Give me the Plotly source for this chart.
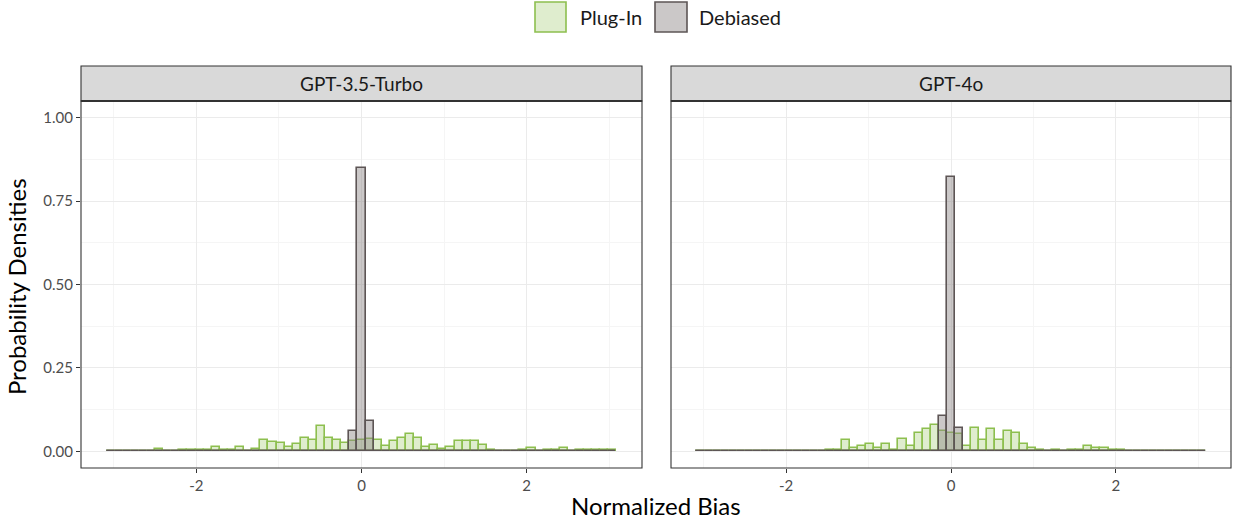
import plotly.graph_objects as go

W, H = 1233, 521

# ---- data -----------------------------------------------------------------
bin_centers = [-3.038, -2.940, -2.842, -2.744, -2.646, -2.548, -2.450, -2.352,
               -2.254, -2.156, -2.058, -1.960, -1.862, -1.764, -1.666, -1.568,
               -1.470, -1.372, -1.274, -1.176, -1.078, -0.980, -0.882, -0.784,
               -0.686, -0.588, -0.490, -0.392, -0.294, -0.196, -0.098, 0.0,
               0.098, 0.196, 0.294, 0.392, 0.490, 0.588, 0.686, 0.784, 0.882,
               0.980, 1.078, 1.176, 1.274, 1.372, 1.470, 1.568, 1.666, 1.764,
               1.862, 1.960, 2.058, 2.156, 2.254, 2.352, 2.450, 2.548, 2.646,
               2.744, 2.842, 2.940, 3.038]
bin_width = 0.098

panels = ["GPT-3.5-Turbo", "GPT-4o"]
series_names = ["Plug-In", "Debiased"]

gpt35_plugin = [0, 0, 0, 0, 0, 0, 0.006, 0, 0, 0.004, 0.004, 0.004, 0.004, 0.012,
                0.004, 0.004, 0.012, 0, 0.006,
                0.035, 0.029, 0.024, 0.013, 0.023, 0.040, 0.034, 0.075, 0.040,
                0.034, 0.024, 0.030, 0.035, 0.037, 0.035, 0.017, 0.030, 0.040,
                0.052, 0.040, 0.013, 0.020, 0.008, 0.013, 0.030, 0.030, 0.030,
                0.019, 0.005,
                0, 0, 0, 0.004, 0.009, 0, 0.004, 0.004, 0.009, 0, 0.004, 0.004,
                0.004, 0.004, 0.004]
gpt35_debiased = [0] * 30 + [0.06, 0.85, 0.09] + [0] * 30

gpt4o_plugin = [0] * 16 + [0.005, 0.005, 0.033, 0.010, 0.015, 0.022, 0.010, 0.022,
                           0.005, 0.038, 0.015, 0.055, 0.066, 0.078, 0.061, 0.056,
                           0.051, 0.016, 0.071, 0.033, 0.066, 0.033, 0.061, 0.055,
                           0.023, 0.010, 0.005, 0, 0.005, 0, 0.005, 0.005, 0.016,
                           0.010, 0.010, 0.005, 0.005] + [0] * 10
gpt4o_debiased = [0] * 30 + [0.105, 0.823, 0.071] + [0] * 30

x_tickvals = [-2, 0, 2]
x_ticktext = ["-2", "0", "2"]
y_tickvals = [0, 0.25, 0.5, 0.75, 1.0]
y_ticktext = ["0.00", "0.25", "0.50", "0.75", "1.00"]

# ---- styles ---------------------------------------------------------------
FONT = "Lato"
green_line = "#8dbf4f"
green_fill = "rgba(141,191,79,0.28)"
grey_line = "#5d5555"
grey_fill = "rgba(140,134,134,0.45)"

fig = go.Figure()

data = [(gpt35_plugin, gpt35_debiased), (gpt4o_plugin, gpt4o_debiased)]
for i, (plug, deb) in enumerate(data):
    xa = "x" if i == 0 else "x2"
    ya = "y" if i == 0 else "y2"
    fig.add_trace(go.Bar(x=bin_centers, y=plug, width=bin_width, name=series_names[0],
                         marker=dict(color=green_fill, line=dict(color=green_line, width=1.6)),
                         xaxis=xa, yaxis=ya, showlegend=False))
    fig.add_trace(go.Bar(x=bin_centers, y=deb, width=bin_width, name=series_names[1],
                         marker=dict(color=grey_fill, line=dict(color=grey_line, width=1.6)),
                         xaxis=xa, yaxis=ya, showlegend=False))

def px_x(p):
    return p / W

def px_y(p):
    return 1 - p / H

left_dom = [px_x(81), px_x(642)]
right_dom = [px_x(671), px_x(1231)]
y_dom = [px_y(468), px_y(101)]

grid_major = "#ebebeb"
grid_minor = "#f5f5f5"
tickfont = dict(family=FONT, size=15, color="#4d4d4d")

xcommon = dict(range=[-3.396, 3.396], tickvals=x_tickvals, ticktext=x_ticktext,
               showgrid=True, gridcolor=grid_major, gridwidth=1.1,
               minor=dict(dtick=1, tick0=1, showgrid=True, gridcolor=grid_minor, gridwidth=0.6),
               ticks="outside", ticklen=4, tickcolor="#333333", tickwidth=1,
               tickfont=tickfont, zeroline=False, showline=False, automargin=False,
               fixedrange=True)
ycommon = dict(range=[-0.05, 1.05], domain=y_dom, tickvals=y_tickvals,
               showgrid=True, gridcolor=grid_major, gridwidth=1.1,
               minor=dict(dtick=0.125, tick0=0.125, showgrid=True, gridcolor=grid_minor, gridwidth=0.6),
               tickcolor="#333333", tickwidth=1, ticklen=4,
               tickfont=tickfont, zeroline=False, showline=False, automargin=False,
               fixedrange=True)

fig.update_layout(
    width=W, height=H,
    margin=dict(l=0, r=0, t=0, b=0),
    paper_bgcolor="white", plot_bgcolor="white",
    barmode="overlay", bargap=0,
    font=dict(family=FONT, color="#1a1a1a"),
    xaxis=dict(domain=left_dom, anchor="y", **xcommon),
    xaxis2=dict(domain=right_dom, anchor="y2", **xcommon),
    yaxis=dict(anchor="x", ticktext=y_ticktext, showticklabels=True, ticks="outside", **ycommon),
    yaxis2=dict(anchor="x2", showticklabels=False, ticks="", **ycommon),
)

shapes = []
annotations = []
for dom, title in zip([left_dom, right_dom], panels):
    # strip
    shapes.append(dict(type="rect", xref="paper", yref="paper",
                       x0=dom[0], x1=dom[1], y0=px_y(101), y1=px_y(66),
                       fillcolor="#d9d9d9", line=dict(color="#333333", width=1.1), layer="below"))
    shapes.append(dict(type="line", xref="paper", yref="paper",
                       x0=dom[0], x1=dom[1], y0=px_y(101), y1=px_y(101),
                       line=dict(color="#333333", width=2)))
    # panel border
    shapes.append(dict(type="rect", xref="paper", yref="paper",
                       x0=dom[0], x1=dom[1], y0=y_dom[0], y1=y_dom[1],
                       line=dict(color="#333333", width=1.1), layer="above"))
    annotations.append(dict(text=title, xref="paper", yref="paper",
                            x=(dom[0] + dom[1]) / 2, y=px_y(83.5),
                            showarrow=False, xanchor="center", yanchor="middle",
                            font=dict(family=FONT, size=19, color="#1a1a1a")))

# axis titles
annotations.append(dict(text="Normalized Bias", xref="paper", yref="paper",
                        x=(left_dom[0] + right_dom[1]) / 2, y=px_y(505),
                        showarrow=False, xanchor="center", yanchor="middle",
                        font=dict(family=FONT, size=24, color="#000000")))
annotations.append(dict(text="Probability Densities", xref="paper", yref="paper",
                        x=px_x(16), y=(y_dom[0] + y_dom[1]) / 2 - 0.005, textangle=-90,
                        showarrow=False, xanchor="center", yanchor="middle",
                        font=dict(family=FONT, size=24, color="#000000")))

# legend (keys + labels)
legend_items = [(535, 566, 578, green_fill, green_line, series_names[0]),
                (655, 687, 697, grey_fill, grey_line, series_names[1])]
for x0, x1, tx, fc, lc, label in legend_items:
    shapes.append(dict(type="rect", xref="paper", yref="paper",
                       x0=px_x(x0), x1=px_x(x1), y0=px_y(32), y1=px_y(2),
                       fillcolor=fc, line=dict(color=lc, width=1.6)))
    annotations.append(dict(text=label, xref="paper", yref="paper",
                            x=px_x(tx), y=px_y(17), showarrow=False,
                            xanchor="left", yanchor="middle",
                            font=dict(family=FONT, size=20, color="#1a1a1a")))

fig.update_layout(shapes=shapes, annotations=annotations)

fig.write_html("out.html", config={"displayModeBar": False},
               post_script="document.body.style.margin='0';document.body.style.padding='0';")
